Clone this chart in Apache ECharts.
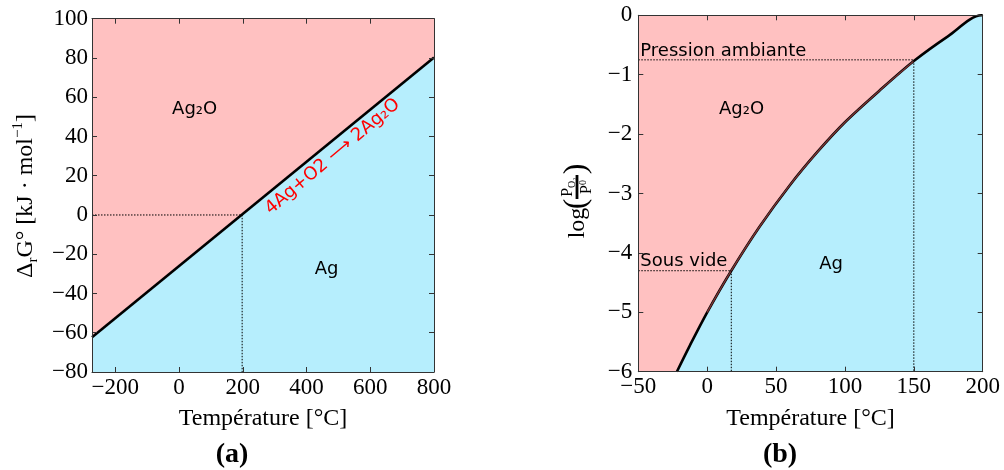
<!DOCTYPE html>
<html><head><meta charset="utf-8">
<script src="https://cdn.jsdelivr.net/npm/echarts@6/dist/echarts.min.js"></script>
<style>html,body{margin:0;padding:0;background:#fff}#c{width:1004px;height:470px}</style>
</head><body><div id="c"></div>
<script>
// ---------- Panel (a): Delta_r G° vs temperature ----------
const tempA = [-273.15, 800];
const deltaG = [-62.3, 80.2];
const zeroCrossT = 198;
const xTicksA = [-200, 0, 200, 400, 600, 800];
const yRangeA = [-80, 100];
const labelsA = [
  { text: 'Ag₂O', t: 49, v: 53.6 },
  { text: 'Ag', t: 463, v: -27.8 }
];
const reactionLabel = { text: '4Ag+O2 ⟶ 2Ag₂O', t: 482, v: 29.7 };

// ---------- Panel (b): log(P_O2/P0) vs temperature ----------
const tempB = [-22, -12.6, 0, 17.5, 38, 60, 80, 100, 125, 150, 175, 199, 200];
const logP = [-6.0, -5.56, -5.0, -4.3, -3.56, -2.86, -2.3, -1.8, -1.27, -0.77, -0.35, 0, 0];
const ambient = { t: 150, v: -0.75, text: 'Pression ambiante' };
const vacuum = { t: 17.5, v: -4.3, text: 'Sous vide' };
const xRangeB = [-50, 200];
const yRangeB = [-6, 0];
const labelsB = [
  { text: 'Ag₂O', t: 25, v: -1.59 },
  { text: 'Ag', t: 90, v: -4.2 }
];

const PINK = '#ffc1c1', BLUE = '#b6eefd';
const SERIF = "'Liberation Serif', 'DejaVu Serif', serif";
const SANS = "'DejaVu Sans', sans-serif";
const TICK_FS = 23, NAME_FS = 24;
const minus = v => String(v).replace('-', '\u2212');

const chart = echarts.init(document.getElementById('c'), null, { renderer: 'canvas' });

const noBorder = { textBorderWidth: 0, textBorderColor: 'transparent', textShadowBlur: 0, opacity: 1 };

function baseAxis(extra) {
  return Object.assign({
    z: 10,
    axisLine: { show: true, onZero: false, lineStyle: { color: '#333', width: 1 } },
    axisTick: { show: true, inside: true, length: 5, lineStyle: { color: '#333' } },
    splitLine: { show: false },
    axisLabel: { color: '#000', fontFamily: SERIF, fontSize: TICK_FS, formatter: minus }
  }, extra);
}

const zipA = tempA.map((t, i) => [t, deltaG[i]]);
const zipB = tempB.map((t, i) => [t, logP[i]]);
const overlayB = zipB.filter(p => p[0] >= 0 && p[0] <= 160);

function textSeries(xi, yi, items, labelOpts) {
  return {
    type: 'scatter', xAxisIndex: xi, yAxisIndex: yi, symbolSize: 0, z: 6, silent: true,
    itemStyle: { opacity: 1 },
    data: items.map(l => ({ value: [l.t, l.v], label: { formatter: l.text } })),
    label: Object.assign({ show: true }, labelOpts, noBorder)
  };
}

const option = {
  animation: false,
  grid: [
    { left: 92, right: 570, top: 18.7, bottom: 98, show: true, backgroundColor: PINK, borderWidth: 0 },
    { left: 638.3, right: 21.3, top: 15.3, bottom: 98.3, show: true, backgroundColor: PINK, borderWidth: 0 }
  ],
  xAxis: [
    baseAxis({ gridIndex: 0, type: 'value', position: 'bottom', min: tempA[0], max: tempA[1],
      axisTick: { show: true, inside: true, length: 5, lineStyle: { color: '#333' }, customValues: xTicksA },
      axisLabel: { color: '#000', fontFamily: SERIF, fontSize: TICK_FS, formatter: minus, customValues: xTicksA, margin: 4 },
      name: 'Température [°C]', nameLocation: 'middle', nameGap: 35,
      nameTextStyle: { fontFamily: SERIF, fontSize: NAME_FS, color: '#000' } }),
    baseAxis({ gridIndex: 0, type: 'value', position: 'top', min: tempA[0], max: tempA[1],
      axisTick: { show: true, inside: true, length: 5, lineStyle: { color: '#333' }, customValues: xTicksA },
      axisLabel: { show: false } }),
    baseAxis({ gridIndex: 1, type: 'value', position: 'bottom', min: xRangeB[0], max: xRangeB[1], interval: 50,
      axisLabel: { color: '#000', fontFamily: SERIF, fontSize: TICK_FS, formatter: minus, margin: 4 },
      name: 'Température [°C]', nameLocation: 'middle', nameGap: 35,
      nameTextStyle: { fontFamily: SERIF, fontSize: NAME_FS, color: '#000' } }),
    baseAxis({ gridIndex: 1, type: 'value', position: 'top', min: xRangeB[0], max: xRangeB[1], interval: 50,
      axisLabel: { show: false } })
  ],
  yAxis: [
    baseAxis({ gridIndex: 0, type: 'value', position: 'left', min: yRangeA[0], max: yRangeA[1], interval: 20,
      axisLabel: { color: '#000', fontFamily: SERIF, fontSize: TICK_FS, formatter: minus, margin: 4 } }),
    baseAxis({ gridIndex: 0, type: 'value', position: 'right', min: yRangeA[0], max: yRangeA[1], interval: 20,
      axisLabel: { show: false } }),
    baseAxis({ gridIndex: 1, type: 'value', position: 'left', min: yRangeB[0], max: yRangeB[1], interval: 1,
      axisLabel: { color: '#000', fontFamily: SERIF, fontSize: TICK_FS, formatter: minus, margin: 6 } }),
    baseAxis({ gridIndex: 1, type: 'value', position: 'right', min: yRangeB[0], max: yRangeB[1], interval: 1,
      axisLabel: { show: false } })
  ],
  series: [
    // Panel (a)
    { type: 'line', xAxisIndex: 0, yAxisIndex: 0, data: zipA, symbol: 'none', z: 3,
      lineStyle: { color: '#000', width: 2.6 }, areaStyle: { color: BLUE, opacity: 1, origin: 'start' } },
    { type: 'line', xAxisIndex: 0, yAxisIndex: 0, symbol: 'none', z: 4,
      data: [[tempA[0], 0], [zeroCrossT, 0], [zeroCrossT, yRangeA[0]]],
      lineStyle: { color: '#000', width: 1, type: [1.5, 1.5] } },
    textSeries(0, 0, labelsA, { position: 'inside', color: '#000', fontFamily: SANS, fontSize: 18 }),
    textSeries(0, 0, [reactionLabel], { position: 'inside', rotate: 40, color: '#ff0000', fontFamily: SANS, fontSize: 18 }),
    // Panel (b)
    { type: 'line', xAxisIndex: 2, yAxisIndex: 2, data: zipB, symbol: 'none', z: 3, smooth: 0.3,
      lineStyle: { color: '#000', width: 2.6 }, areaStyle: { color: BLUE, opacity: 1, origin: 'start' } },
    { type: 'line', xAxisIndex: 2, yAxisIndex: 2, data: overlayB, symbol: 'none', z: 4, smooth: 0.3,
      lineStyle: { color: '#7a3434', width: 1.4 } },
    { type: 'line', xAxisIndex: 2, yAxisIndex: 2, symbol: 'none', z: 4,
      data: [[xRangeB[0], ambient.v], [ambient.t, ambient.v], [ambient.t, yRangeB[0]]],
      lineStyle: { color: '#000', width: 1, type: [1.5, 1.5] } },
    { type: 'line', xAxisIndex: 2, yAxisIndex: 2, symbol: 'none', z: 4,
      data: [[xRangeB[0], vacuum.v], [vacuum.t, vacuum.v], [vacuum.t, yRangeB[0]]],
      lineStyle: { color: '#000', width: 1, type: [1.5, 1.5] } },
    textSeries(2, 2, labelsB, { position: 'inside', color: '#000', fontFamily: SANS, fontSize: 18 }),
    textSeries(2, 2, [ambient, vacuum].map(l => ({ text: l.text, t: xRangeB[0], v: l.v })),
      { position: 'top', distance: 0, align: 'left', padding: [0, 0, 0, 2], color: '#000', fontFamily: SANS, fontSize: 18 })
  ],
  graphic: [
    { type: 'text', x: 26, y: 196, rotation: Math.PI / 2, z: 20,
      style: {
        text: '{m|Δ}{s|r}{m|G° [kJ · mol}{p|−1}{m|]}',
        align: 'center', verticalAlign: 'middle',
        rich: {
          m: { fontFamily: SERIF, fontSize: NAME_FS, lineHeight: 30, fill: '#000' },
          s: { fontFamily: SERIF, fontSize: 15, lineHeight: 15, verticalAlign: 'bottom', fill: '#000' },
          p: { fontFamily: SERIF, fontSize: 15, lineHeight: 15, verticalAlign: 'top', fill: '#000' }
        }
      } },
    { type: 'group', x: 577, y: 196, rotation: Math.PI / 2, z: 20,
      children: [
        { type: 'text', x: -27, y: 1, style: { text: 'log', font: '24px ' + SERIF, fill: '#000', align: 'center', verticalAlign: 'middle' } },
        { type: 'text', x: -8, y: 0, style: { text: '(', font: '32px ' + SERIF, fill: '#000', align: 'center', verticalAlign: 'middle' } },
        { type: 'text', x: 9, y: -9, style: { text: '{m|P}{s|O₂}', align: 'center', verticalAlign: 'middle',
            rich: { m: { fontFamily: SERIF, fontSize: 16, lineHeight: 18, fill: '#000' },
                    s: { fontFamily: SERIF, fontSize: 10, lineHeight: 10, verticalAlign: 'bottom', fill: '#000' } } } },
        { type: 'rect', shape: { x: -3, y: -1.4, width: 24, height: 2.8 }, style: { fill: '#000' } },
        { type: 'text', x: 9, y: 10, style: { text: '{m|P}{p|0}', align: 'center', verticalAlign: 'middle',
            rich: { m: { fontFamily: SERIF, fontSize: 16, lineHeight: 18, fill: '#000' },
                    p: { fontFamily: SERIF, fontSize: 10, lineHeight: 10, verticalAlign: 'top', fill: '#000' } } } },
        { type: 'text', x: 27, y: 0, style: { text: ')', font: '32px ' + SERIF, fill: '#000', align: 'center', verticalAlign: 'middle' } }
      ] },
    { type: 'text', x: 232, y: 455, z: 20,
      style: { text: '(a)', font: 'bold 28px ' + SERIF, fill: '#000', align: 'center', verticalAlign: 'middle' } },
    { type: 'text', x: 780, y: 455, z: 20,
      style: { text: '(b)', font: 'bold 28px ' + SERIF, fill: '#000', align: 'center', verticalAlign: 'middle' } }
  ]
};
chart.setOption(option);
</script>
</body></html>
